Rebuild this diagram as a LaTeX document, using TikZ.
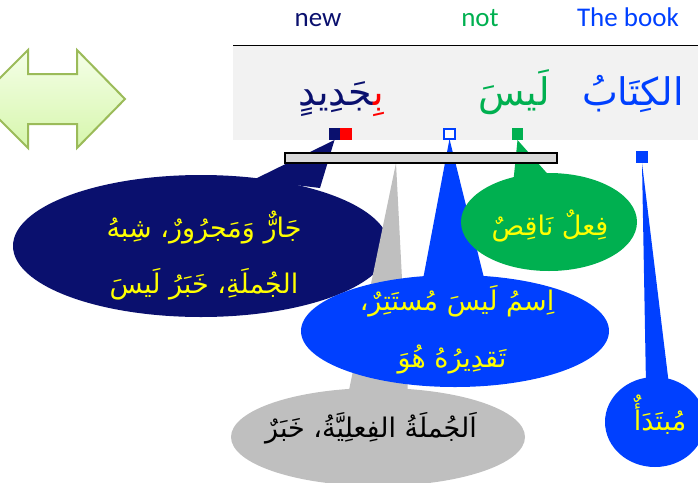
\documentclass[tikz,border=0pt]{standalone}
\usepackage{fontspec}
\setmainfont{Carlito}
\newfontfamily\arabicfont[Script=Arabic]{DejaVu Sans}
\TeXXeTstate=1
\usetikzlibrary{shapes.geometric}
\definecolor{navyc}{RGB}{10,16,110}
\definecolor{bluec}{RGB}{0,64,255}
\definecolor{greenc}{RGB}{0,176,80}
\definecolor{yellowc}{RGB}{255,255,0}
\definecolor{grayc}{RGB}{191,191,191}
\definecolor{barc}{RGB}{217,217,217}
\definecolor{bandc}{RGB}{242,242,242}
\definecolor{arrowline}{RGB}{155,187,89}
\definecolor{arrowtop}{RGB}{245,255,232}
\definecolor{arrowbot}{RGB}{214,246,172}
\tikzset{
  english/.style={font=\fontsize{27}{32}\selectfont, anchor=base, inner sep=0pt},
  arword/.style={font=\arabicfont\fontsize{38}{44}\selectfont, anchor=base, inner sep=0pt},
  calltext/.style={font=\arabicfont\fontsize{27}{32}\selectfont, anchor=base, inner sep=0pt, text=yellowc},
  bubble/.style={ellipse, inner sep=0pt, outer sep=0pt},
  sqbox/.style={minimum width=11.5pt, minimum height=12pt, inner sep=0pt, outer sep=0pt},
}
\begin{document}
\begin{tikzpicture}[x=1pt,y=-1pt]
\useasboundingbox (0,0) rectangle (698,482);
\clip (0,0) rectangle (698,482);
% double arrow
\path[draw=arrowline, line width=2pt, top color=arrowtop, bottom color=arrowbot]
  (-21,99) -- (28,50) -- (28,74) -- (77,74) -- (77,50) -- (125,99) -- (77,148)
  -- (77,124) -- (28,124) -- (28,148) -- cycle;
% top labels
\node[english, text=navyc] (lnew) at (318,26) {new};
\node[english, text=greenc] (lnot) at (480,26) {not};
\node[english, text=bluec] (lbook) at (628,26) {The book};
% band
\fill[bandc] (233,45) rectangle (698,140);
\draw[line width=1pt] (233,45) -- (698,45);
% arabic sentence
\node[arword, text=bluec] (wkitab) at (633,105) {\beginR الكِتَابُ\endR};
\node[arword, text=greenc] (wlaysa) at (514,105) {\beginR لَيسَ\endR};
\node[arword] (wjadid) at (341,105) {{\color{navyc}^^^^200dجَدِيدٍ}{\color{red}بِ^^^^200d}};
% squares
\node[sqbox, fill=navyc] (sqa) at (334.5,134) {};
\node[sqbox, fill=red] (sqb) at (346,134) {};
\node[sqbox, draw=bluec, fill=white, line width=2pt, minimum width=11pt, minimum height=10pt] (sqc) at (449.5,134) {};
\node[sqbox, fill=greenc] (sqd) at (517.5,134) {};
\node[sqbox, fill=bluec] (sqe) at (642,157) {};
% navy callout
\fill[navyc] (sqa.south) -- (253,180) -- (320,188) -- cycle;
\node[bubble, fill=navyc, minimum width=376pt, minimum height=142pt] (enavy) at (201,246) {};
\node[calltext] (tnavy1) at (204,237) {\beginR جَارٌّ وَمَجرُورٌ، شِبهُ\endR};
\node[calltext] (tnavy2) at (204,293) {\beginR الجُملَةِ، خَبَرُ لَيسَ\endR};
% gray callout
\coordinate (gtip) at (396,163);
\fill[grayc] (gtip) -- (348,395) -- (408,395) -- cycle;
\node[bubble, fill=grayc, minimum width=294pt, minimum height=98pt] (egray) at (378,437) {};
\node[calltext, text=black] (tgray) at (371,437) {\beginR اَلجُملَةُ الفِعلِيَّةُ، خَبَرٌ\endR};
% blue callout
\fill[bluec] (sqc.south) -- (421,290) -- (487,290) -- cycle;
\node[bubble, fill=bluec, minimum width=308pt, minimum height=112pt] (eblue) at (455,331) {};
\node[calltext] (tblue1) at (457,310) {\beginR اِسمُ لَيسَ مُستَتِرٌ،\endR};
\node[calltext] (tblue2) at (452,367) {\beginR تَقدِيرُهُ هُوَ\endR};
% green callout
\fill[greenc] (sqd.south) -- (513,185) -- (553,180) -- cycle;
\node[bubble, fill=greenc, minimum width=176pt, minimum height=98pt] (egreen) at (549,222) {};
\node[calltext] (tgreen) at (550,235) {\beginR فِعلٌ نَاقِصٌ\endR};
% right blue callout
\fill[bluec] (sqe.south) -- (646,385) -- (669,385) -- cycle;
\node[bubble, fill=bluec, minimum width=100pt, minimum height=90pt] (eright) at (655,422) {};
\node[calltext] (tright) at (660,430) {\beginR مُبتَدَأٌ\endR};
% bar on top
\node[draw=black, line width=1.3pt, fill=barc, minimum width=272pt, minimum height=10pt, inner sep=0pt] (bar) at (421,158) {};
\end{tikzpicture}
\end{document}
